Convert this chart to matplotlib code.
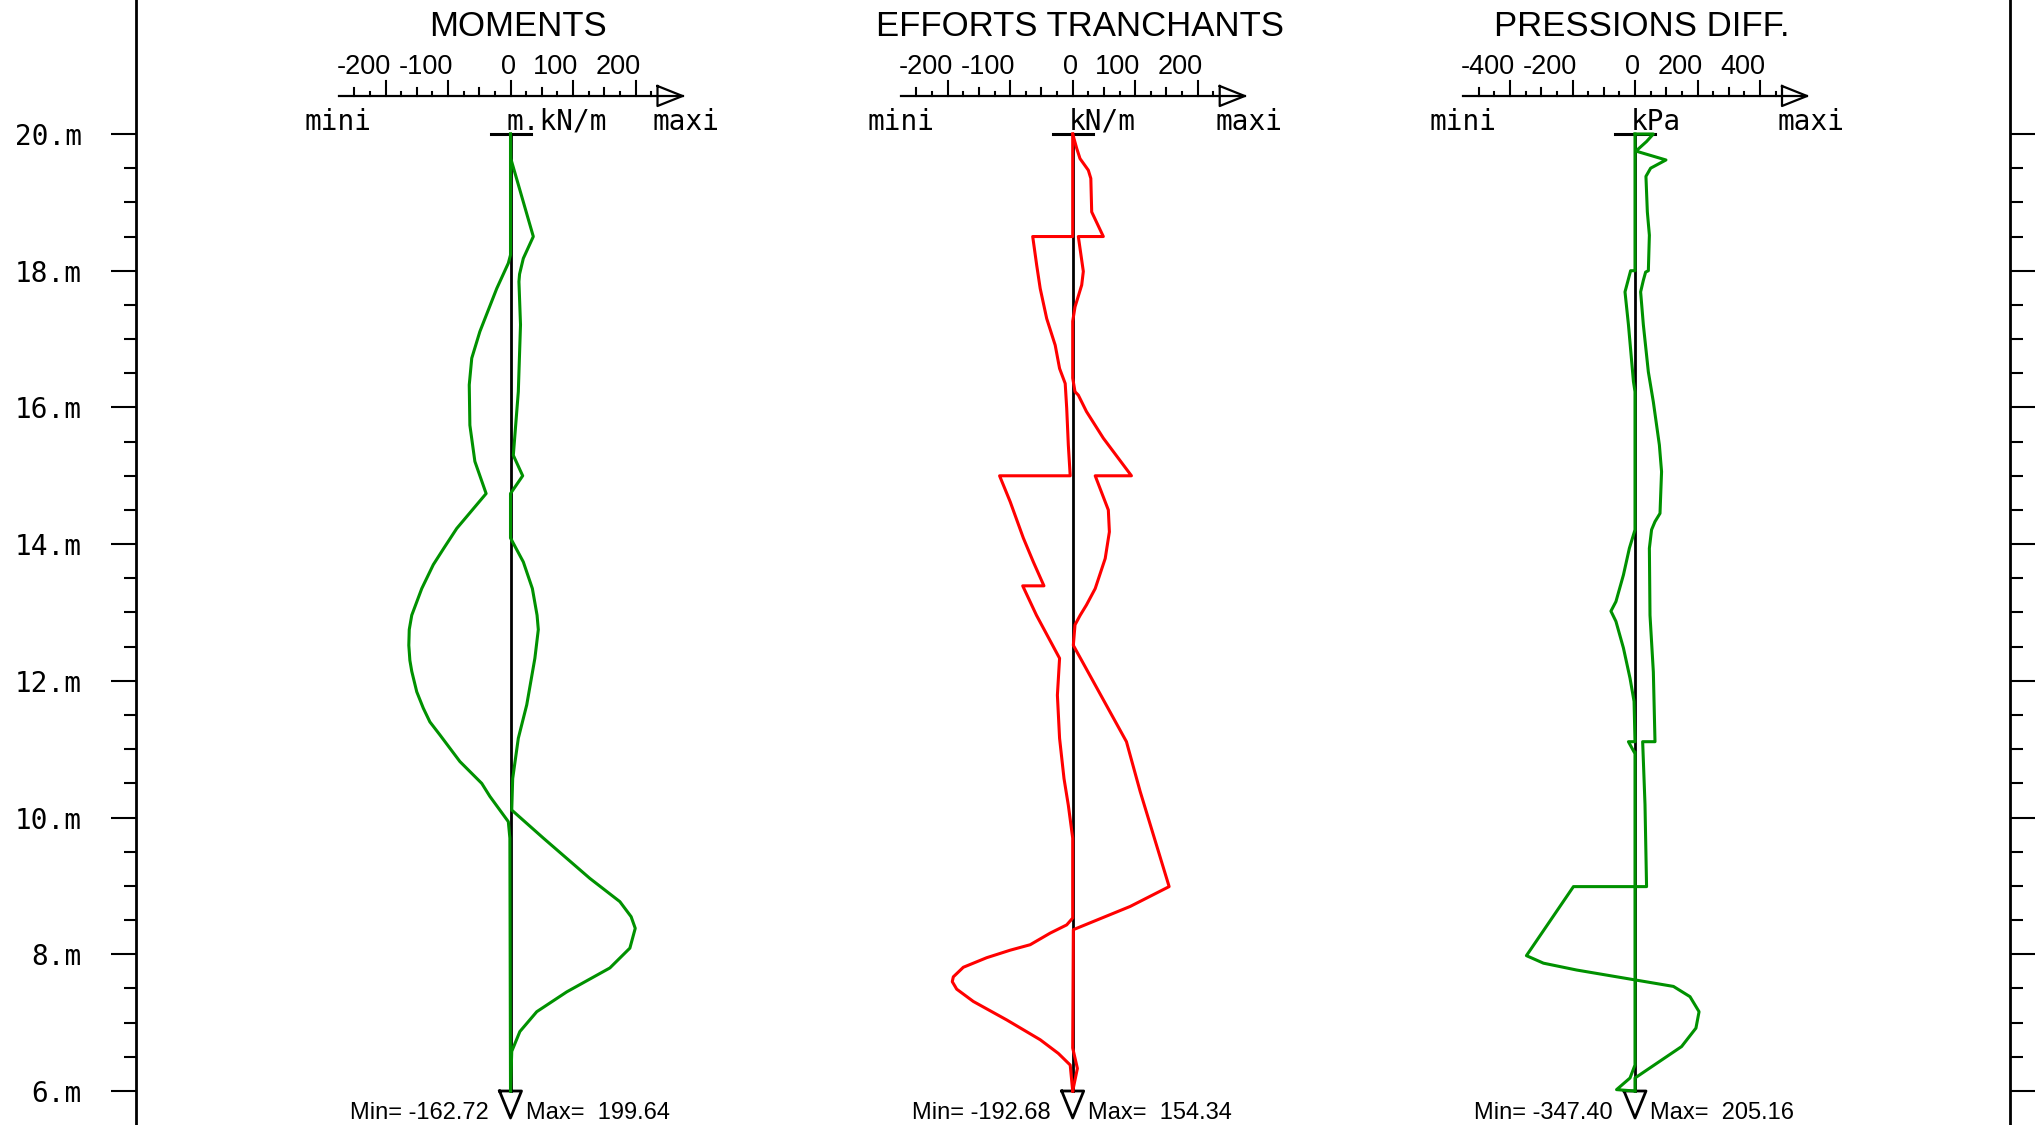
import matplotlib
matplotlib.use("Agg")
import matplotlib.pyplot as plt
import matplotlib.transforms as mtransforms
import numpy as np
from matplotlib.ticker import FixedLocator

W, H, DPI = 2036, 1125, 100

# profondeur (m)
DEPTH_TICKS = [6, 8, 10, 12, 14, 16, 18, 20]
DEPTH_LABELS = ["6.m", "8.m", "10.m", "12.m", "14.m", "16.m", "18.m", "20.m"]
TOP_DEPTH, BOTTOM_DEPTH = 20.0, 6.0

# --- MOMENTS (m.kN/m), deux courbes
mom_a_depth = [20.00, 19.64, 18.50, 18.18, 17.95, 17.84, 17.21, 16.23, 15.30, 15.00,
               14.74, 14.09, 13.74, 13.35, 12.96, 12.75, 12.33, 11.65, 11.16, 10.57,
               10.11, 9.70, 9.11, 8.77, 8.55, 8.38, 8.09, 7.80, 7.45, 7.16,
               6.87, 6.58, 6.00]
mom_a_val = [0, 0.5, 36.5, 20.5, 14.5, 13.5, 16, 12.5, 4.5, 19.5,
             0, 0, 20.5, 35, 42.5, 44.5, 39, 26, 12.5, 3.5,
             2, 52.5, 127, 175, 193, 199.6, 191, 159, 90, 42,
             15, 2, 0]
mom_b_depth = [20.00, 18.23, 18.11, 17.74, 17.11, 16.72, 16.33, 15.74, 15.21, 14.74,
               14.23, 13.95, 13.70, 13.35, 12.96, 12.75, 12.52, 12.30, 12.14, 11.84,
               11.60, 11.40, 11.21, 10.82, 10.50, 10.31, 9.94, 9.70, 6.00]
mom_b_val = [0, 0, -3.5, -22, -49, -62, -66, -65, -57, -39,
             -86, -106, -123.5, -142, -158, -162, -162.7, -161, -158, -150,
             -139.5, -129, -113, -81, -46, -33, -3.5, -1, 0]

# --- EFFORTS TRANCHANTS (kN/m)
shr_a_depth = [20.00, 19.79, 19.64, 19.47, 19.35, 18.86, 18.50, 18.50, 17.99, 17.79,
               17.47, 17.26, 16.43, 16.23, 16.18, 15.94, 15.55, 15.00, 15.00, 14.50,
               14.18, 13.79, 13.35, 13.11, 12.96, 12.82, 12.52, 11.11, 10.38, 8.99,
               8.70, 8.36, 6.63, 6.33, 6.00]
shr_a_val = [0, 6.4, 11.7, 25, 29, 30.4, 49, 9, 17, 14.4,
             3.7, 0, 0, 3.7, 9, 22, 49, 94, 36, 57,
             58.7, 52, 36, 22, 12, 3.7, 1, 86, 108, 154.3,
             92, 1, 0, 7.5, 0]
shr_b_depth = [20.00, 18.50, 18.50, 18.08, 17.74, 17.30, 16.91, 16.57, 16.35, 15.99,
               15.45, 15.00, 15.00, 14.62, 14.09, 13.74, 13.39, 13.39, 12.96, 12.33,
               11.79, 11.16, 10.57, 10.18, 9.70, 8.53, 8.43, 8.31, 8.14, 8.06,
               7.95, 7.81, 7.67, 7.60, 7.49, 7.31, 7.04, 6.75, 6.55, 6.38,
               6.00]
shr_b_val = [0, 0, -64, -57.6, -52, -41.6, -28, -21, -12, -9.6,
             -7, -4, -117, -100, -79, -63, -46, -80, -58, -21,
             -24.5, -21, -13.9, -7, 0, 0, -9.6, -36, -68, -100,
             -137.6, -175, -191, -192.7, -185.6, -159, -105.6, -52, -23, -4,
             0]

# --- PRESSIONS DIFF. (kPa)
prs_a_depth = [20.00, 20.00, 19.89, 19.75, 19.62, 19.50, 19.38, 18.86, 18.52, 18.00,
               17.98, 17.86, 17.69, 17.21, 16.52, 16.08, 15.45, 15.06, 14.45, 14.33,
               14.21, 13.94, 12.96, 12.13, 11.11, 11.11, 10.19, 8.99, 8.99, 7.98,
               7.87, 7.77, 7.53, 7.38, 7.16, 6.92, 6.65, 6.19, 6.00]
prs_a_val = [0, 58.7, 37, 3, 99, 50, 35, 39.5, 46, 42.7,
             34, 26.7, 18, 26.7, 42.7, 58.7, 78, 85, 80, 64,
             53, 46, 48, 58.7, 64, 24.5, 32, 37, -197, -347.4,
             -293, -187, 123, 176, 205, 195, 149, 0, 0]
prs_b_depth = [20.00, 18.00, 18.00, 17.69, 17.21, 16.38, 16.23, 14.21, 13.94, 13.55,
               13.16, 13.02, 12.87, 12.48, 12.04, 11.70, 11.11, 11.11, 10.96, 10.96,
               6.38, 6.19, 6.02, 6.00]
prs_b_val = [0, 0, -14, -32, -21, -5, 0, 0, -18, -37,
             -61, -77, -61, -37, -16, -3, 0, -21, -3, 0,
             0, -16, -59, 0]

titles = ["MOMENTS", "EFFORTS TRANCHANTS", "PRESSIONS DIFF."]
units = ["m.kN/m", "kN/m", "kPa"]
scale_labels = [[-200, -100, 0, 100, 200],
                [-200, -100, 0, 100, 200],
                [-400, -200, 0, 200, 400]]
min_vals = [-162.72, -192.68, -347.40]
max_vals = [199.64, 154.34, 205.16]
colors = ["#009100", "#ff0000", "#009100"]
curves = [[(mom_a_depth, mom_a_val), (mom_b_depth, mom_b_val)],
          [(shr_a_depth, shr_a_val), (shr_b_depth, shr_b_val)],
          [(prs_a_depth, prs_a_val), (prs_b_depth, prs_b_val)]]

# mise en page (pixels)
ZERO_PX = [510.5, 1072.7, 1635.0]
PX_PER_UNIT = [0.625, 0.625, 0.3125]
Y_20M, Y_6M = 134.0, 1091.0
PX_PER_M = (Y_6M - Y_20M) / (TOP_DEPTH - BOTTOM_DEPTH)
AXIS_LEFT, AXIS_RIGHT = 136.0, 2010.0
HALF_PX = 280.0
SCALE_HALF_PX = 172.0

d_top = TOP_DEPTH + Y_20M / PX_PER_M
d_bot = TOP_DEPTH - (H - Y_20M) / PX_PER_M

SANS = ["Liberation Sans", "DejaVu Sans"]
MONO = ["DejaVu Sans Mono"]


def fy(px):
    return 1.0 - px / H


fig = plt.figure(figsize=(W / DPI, H / DPI), dpi=DPI)
fig.patch.set_facecolor("white")

# axe des profondeurs (gauche + droite)
axf = fig.add_axes([AXIS_LEFT / W, 0, (AXIS_RIGHT - AXIS_LEFT) / W, 1])
axf.set_facecolor("none")
axf.set_ylim(d_bot, d_top)
axf.set_xticks([])
for s in ["top", "bottom"]:
    axf.spines[s].set_visible(False)
for s in ["left", "right"]:
    axf.spines[s].set_linewidth(2.0)
minor = [d for d in np.arange(BOTTOM_DEPTH, TOP_DEPTH + 0.01, 0.5) if d not in DEPTH_TICKS]
axf.yaxis.set_major_locator(FixedLocator(DEPTH_TICKS))
axf.yaxis.set_minor_locator(FixedLocator(minor))
axf.set_yticklabels(DEPTH_LABELS)
axf.tick_params(axis="y", which="both", direction="out", left=True, right=True,
                labelleft=True, labelright=False)
axf.tick_params(axis="y", which="major", length=18, width=1.5, pad=21,
                labelsize=20)
axf.tick_params(axis="y", which="minor", length=9, width=1.5)
for lab in axf.get_yticklabels():
    lab.set_family(MONO)

for i in range(3):
    z = ZERO_PX[i]
    sc = PX_PER_UNIT[i]
    ax = fig.add_axes([(z - HALF_PX) / W, 0, 2 * HALF_PX / W, 1])
    ax.set_xlim(-HALF_PX / sc, HALF_PX / sc)
    ax.set_ylim(d_bot, d_top)
    ax.axis("off")
    tr = mtransforms.blended_transform_factory(ax.transData, ax.transAxes)

    # titre
    ax.text(7 / sc, fy(36), titles[i], transform=tr, ha="center", va="baseline",
            fontsize=25, family=SANS, clip_on=False)

    # réglette d'échelle
    end = SCALE_HALF_PX / sc
    step = (scale_labels[i][1] - scale_labels[i][0]) / 4.0
    ax.plot([-end, end], [fy(96), fy(96)], transform=tr, color="black", lw=1.6,
            clip_on=False)
    k = int(round(-end / step)) + 1
    while k * step < end - 30 / sc:
        if k % 4 == 0:
            h = 15
        elif k % 2 == 0:
            h = 8
        else:
            h = 4
        ax.plot([k * step, k * step], [fy(96), fy(96 - h)], transform=tr,
                color="black", lw=1.5, clip_on=False)
        k += 1
    base = end - 25 / sc
    ax.plot([base, end, base, base], [fy(86), fy(96), fy(106), fy(86)],
            transform=tr, color="black", lw=1.6, clip_on=False)
    for v in scale_labels[i]:
        ax.text(v + 5 / sc, fy(74), f"{v}", transform=tr, ha="right",
                va="baseline", fontsize=19.5, family=SANS, clip_on=False)
    ax.text(-end, fy(130), "mini", transform=tr, ha="center", va="baseline",
            fontsize=20, family=MONO, clip_on=False)
    ax.text(end + 4 / sc, fy(130), "maxi", transform=tr, ha="center",
            va="baseline", fontsize=20, family=MONO, clip_on=False)
    ax.text(-4 / sc, fy(130), units[i], transform=tr, ha="left", va="baseline",
            fontsize=20, family=MONO, clip_on=False)

    # ligne de référence
    bar = 20 / sc
    ax.plot([0, 0], [BOTTOM_DEPTH, TOP_DEPTH], color="black", lw=2.0)
    ax.plot([-bar, bar], [TOP_DEPTH, TOP_DEPTH], color="black", lw=2.2)
    tri_w = 11 / sc
    tip = BOTTOM_DEPTH - 27 / PX_PER_M
    ax.plot([-tri_w, tri_w, 0, -tri_w], [BOTTOM_DEPTH, BOTTOM_DEPTH, tip, BOTTOM_DEPTH],
            color="black", lw=2.0, clip_on=False)

    # courbes
    for dep, val in curves[i]:
        ax.plot(val, dep, color=colors[i], lw=2.2, solid_joinstyle="round")

    # min / max
    ax.text(-22 / sc, fy(1119), f"Min= {min_vals[i]:.2f}", transform=tr,
            ha="right", va="baseline", fontsize=17, family=SANS, clip_on=False)
    ax.text(15 / sc, fy(1119), f"Max=  {max_vals[i]:.2f}", transform=tr,
            ha="left", va="baseline", fontsize=17, family=SANS, clip_on=False)

fig.savefig("out.png", dpi=DPI, facecolor="white")
